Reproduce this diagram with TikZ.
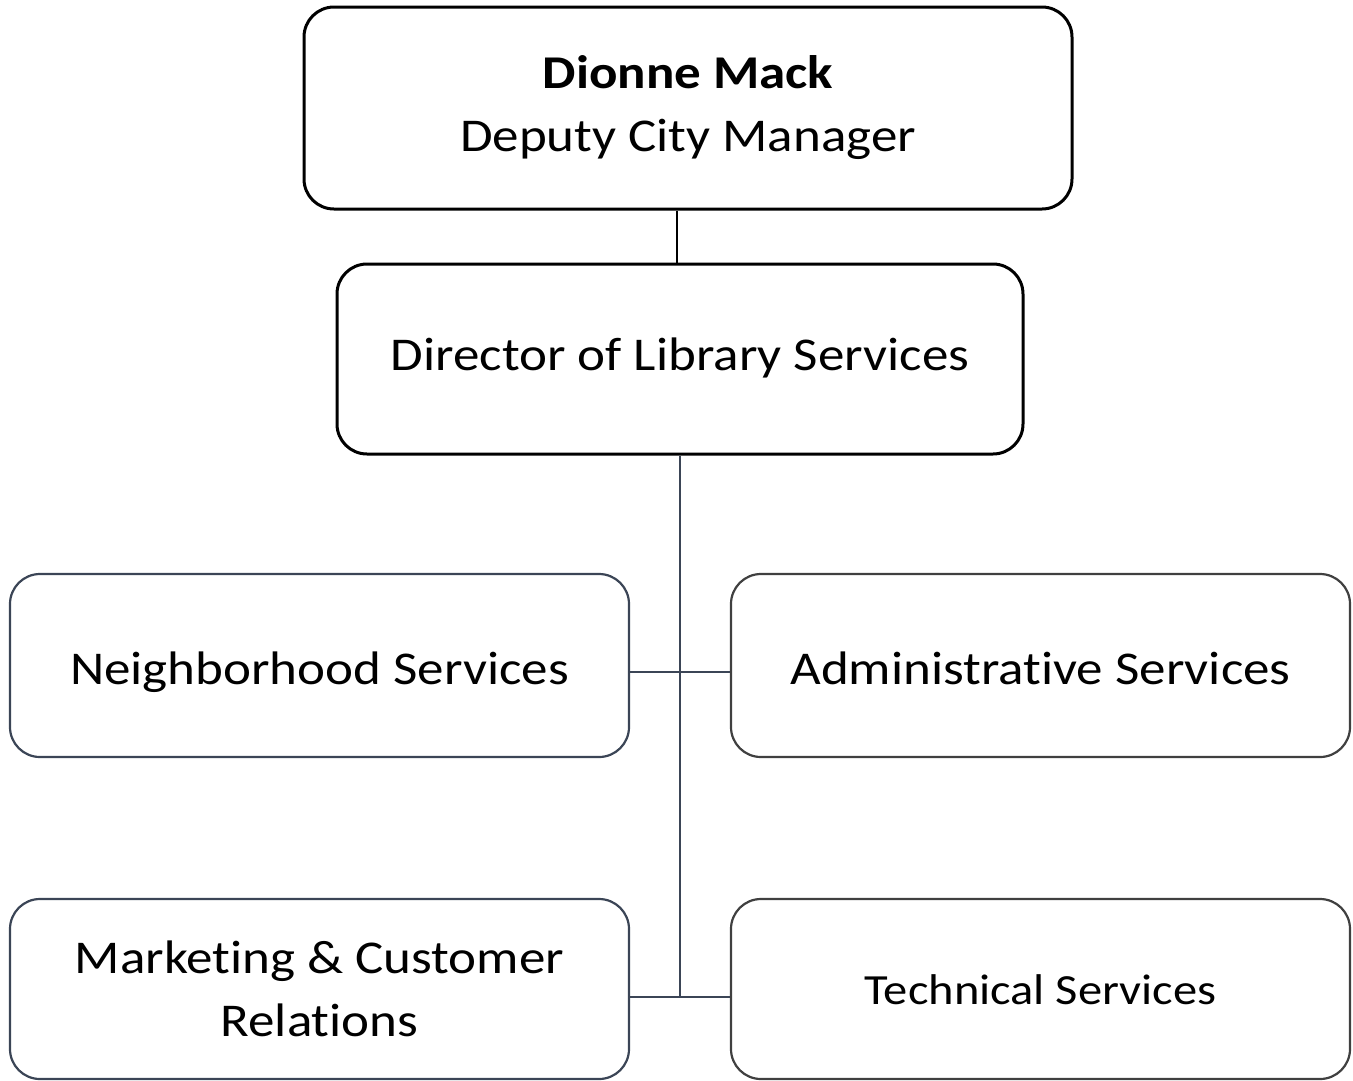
\documentclass[tikz,border=0pt]{standalone}
\usepackage{fontspec}
\setmainfont[Ligatures=NoCommon, FakeStretch=1.128]{Carlito}
\definecolor{slate}{HTML}{3B4556}
\definecolor{dgray}{HTML}{404040}
\begin{document}
\begin{tikzpicture}[x=1pt,y=-1pt,
  box/.style={rounded corners=30pt, align=center, inner sep=0pt,
    font=\fontsize{47}{63}\selectfont, text=black},
  topbox/.style={box, draw=black, line width=3pt},
  lowbox/.style={box, draw=slate, line width=2.2pt},
  lowboxr/.style={box, draw=dgray, line width=2.2pt},
  single/.style={text height=#1, text depth=0pt},
  conn/.style={line width=2.2pt, slate}]
\useasboundingbox (0,0) rectangle (1353,1080);
\node[topbox, minimum width=768pt, minimum height=202pt] (top) at (688,108)
  {\textbf{Dionne Mack}\\Deputy City Manager};
\node[topbox, single=22pt, minimum width=686pt, minimum height=190pt] (dir) at (680,359)
  {Director of Library Services};
\node[lowbox, single=37pt, minimum width=619pt, minimum height=183pt] (nb) at (319.5,665.5)
  {Neighborhood Services};
\node[lowboxr, single=37pt, minimum width=619pt, minimum height=183pt] (adm) at (1040.5,665.5)
  {Administrative Services};
\node[lowbox, minimum width=619pt, minimum height=180pt] (mk) at (319.5,989)
  {Marketing \& Customer\\Relations};
\node[lowboxr, single=30pt, minimum width=619pt, minimum height=180pt, font=\fontsize{43}{50}\selectfont] (tech) at (1040.5,989)
  {Technical Services};
\coordinate (j2) at (680,997);
\draw[line width=2.5pt, black] (top.south -| 677,0) -- (dir.north -| 677,0);
\draw[conn] (dir.south) -- (j2);
\draw[conn] (nb.east |- 0,672) -- (adm.west |- 0,672);
\draw[conn] (mk.east |- j2) -- (tech.west |- j2);
\end{tikzpicture}
\end{document}
